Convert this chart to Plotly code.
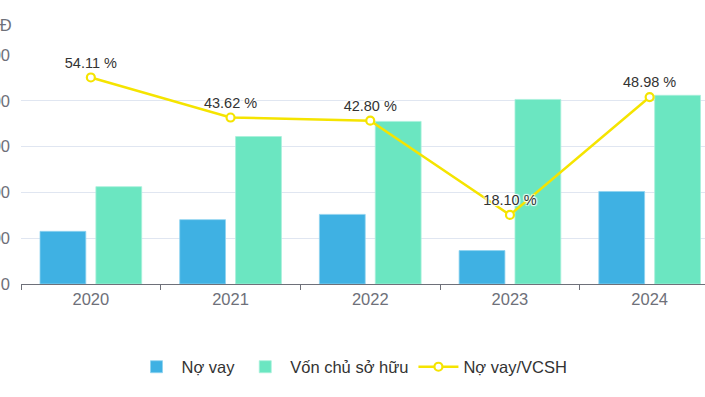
import plotly.graph_objects as go

years = ["2020", "2021", "2022", "2023", "2024"]
no_vay = [230, 281, 304, 146, 404]
von_csh = [425, 644, 710, 806, 824]
ratio = [54.11, 43.62, 42.80, 18.10, 48.98]
ratio_labels = ["54.11 %", "43.62 %", "42.80 %", "18.10 %", "48.98 %"]
y_ticks = [0, 200, 400, 600, 800, 1000]
unit_label = "Tỷ VNĐ"

FONT = "Liberation Sans, Arial, Helvetica, sans-serif"
W, H = 705, 397
L = 21
T = 55
ZERO = 284
B = H - ZERO
plot_w = W - L
plot_h = ZERO - T
cat_px = 139.7


def py(page_y):
    return (ZERO - page_y) / plot_h


def px(page_x):
    return (page_x - L) / plot_w


fig = go.Figure()
fig.add_trace(go.Bar(
    x=years, y=no_vay, name="Nợ vay",
    marker=dict(color="#3fb1e3", line=dict(color="#8fd3f0", width=0.8)),
))
fig.add_trace(go.Bar(
    x=years, y=von_csh, name="Vốn chủ sở hữu",
    marker=dict(color="#6be6c1", line=dict(color="#a8f0da", width=0.8)),
))
fig.add_trace(go.Scatter(
    x=years, y=ratio, name="Nợ vay/VCSH", yaxis="y2",
    mode="lines+markers+text",
    line=dict(color="#f5e400", width=2.5),
    marker=dict(size=8, color="white", line=dict(color="#f5e400", width=2.2)),
    text=ratio_labels, textposition="top center",
    textfont=dict(size=14.5, color="#333333", family=FONT,
                  shadow="1px 1px 1px white, -1px -1px 1px white, 1px -1px 1px white, -1px 1px 1px white"),
))

xr_max = -0.5 + plot_w / cat_px
fig.update_layout(
    width=W, height=H,
    margin=dict(l=L, r=0, t=T, b=B, autoexpand=False),
    paper_bgcolor="white", plot_bgcolor="white",
    font=dict(family=FONT, color="#6e7079"),
    barmode="group", bargap=0.2, bargroupgap=0.18,
    showlegend=True,
    legend=dict(
        orientation="h", x=px(352), xanchor="center",
        y=py(367), yanchor="middle",
        font=dict(size=16.5, color="#333333", family=FONT),
        itemwidth=40, traceorder="normal",
    ),
    xaxis=dict(
        type="category", range=[-0.5, xr_max], fixedrange=True,
        showline=True, linecolor="#6e7079", linewidth=1,
        ticks="outside", ticklen=5, tickcolor="#6e7079", tickson="boundaries",
        tickfont=dict(size=16.5, color="#6e7079", family=FONT),
        showgrid=False, automargin=False,
    ),
    yaxis=dict(
        range=[0, 1000], tickvals=y_ticks, ticktext=[f"{v:,}" for v in y_ticks],
        showgrid=True, gridcolor="#e0e6f1", gridwidth=1,
        zeroline=False, showline=False, fixedrange=True,
        tickfont=dict(size=16.5, color="#6e7079", family=FONT),
        ticklabelstandoff=10, automargin=False,
    ),
    yaxis2=dict(
        range=[0, 60], overlaying="y", side="right", fixedrange=True,
        showgrid=False, zeroline=False, showticklabels=False, showline=False,
    ),
    annotations=[dict(
        text=unit_label, xref="paper", yref="paper",
        x=px(14), y=py(25),
        xanchor="right", yanchor="middle", showarrow=False,
        font=dict(size=16.5, color="#6e7079", family=FONT),
    )],
)

fig.write_html(
    "out.html",
    config={"displayModeBar": False},
    post_script="document.body.style.margin='0';",
)
